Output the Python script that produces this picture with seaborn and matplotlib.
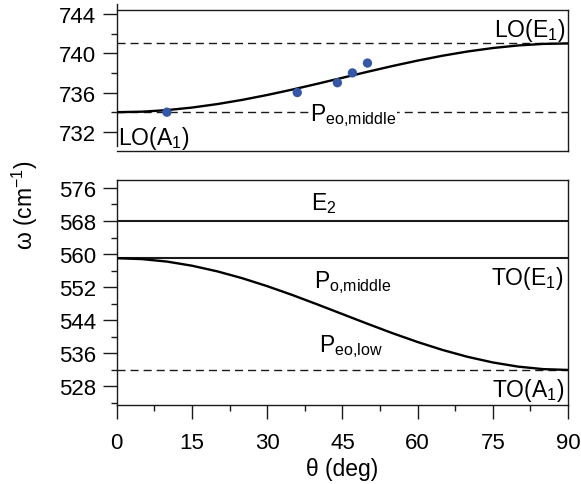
import matplotlib
matplotlib.use("Agg")
import matplotlib.pyplot as plt
from matplotlib.ticker import MultipleLocator, FixedLocator
import seaborn as sns

# angle grid (deg) and mode frequencies (cm-1)
theta = [0, 5, 10, 15, 20, 25, 30, 35, 40, 45, 50, 55, 60, 65, 70, 75, 80, 85, 90]
p_eo_middle = [734.0, 734.05, 734.21, 734.47, 734.82, 735.25, 735.75, 736.3, 736.89, 737.5,
               738.11, 738.7, 739.25, 739.75, 740.18, 740.53, 740.79, 740.95, 741.0]
p_eo_low = [559.0, 558.79, 558.19, 557.19, 555.84, 554.18, 552.25, 550.12, 547.84, 545.5,
            543.16, 540.88, 538.75, 536.82, 535.16, 533.81, 532.81, 532.2, 532.0]

# measured points
meas_theta = [10, 36, 44, 47, 50]
meas_omega = [734, 736, 737, 738, 739]

# reference modes
lo_modes = [741, 734]      # LO(E1), LO(A1) - dashed
high_solid = [568, 559]    # E2, TO(E1) - solid
to_a1 = [532]              # TO(A1) - dashed

x_ticks = [0, 15, 30, 45, 60, 75, 90]
top_ticks = [732, 736, 740, 744]
bot_ticks = [528, 536, 544, 552, 560, 568, 576]

sns.set_style("ticks")
plt.rcParams["font.family"] = ["Liberation Sans", "DejaVu Sans"]
plt.rcParams["mathtext.fontset"] = "custom"
plt.rcParams["mathtext.rm"] = "Liberation Sans"
plt.rcParams["mathtext.it"] = "Liberation Sans"
plt.rcParams["mathtext.default"] = "regular"
plt.rcParams["text.color"] = "black"
plt.rcParams["axes.labelcolor"] = "black"
plt.rcParams["xtick.color"] = "black"
plt.rcParams["ytick.color"] = "black"

FS = 16
LFS = 16.5
ink = "#1a1a1a"
blue = "#3557a8"
dash = (0, (5.8, 3.6))

fig = plt.figure(figsize=(5.81, 4.85), dpi=100)
ax1 = fig.add_axes([0.2009, 0.6856, 0.7768, 0.2917])
ax2 = fig.add_axes([0.2009, 0.1635, 0.7768, 0.4633])

for ax in (ax1, ax2):
    for s in ax.spines.values():
        s.set_linewidth(1.0)
        s.set_color(ink)
    ax.set_xlim(0, 90)
    ax.tick_params(axis="both", which="major", direction="out", length=10, width=1.0,
                   color=ink, labelsize=FS, pad=5)
    ax.tick_params(axis="both", which="minor", direction="out", length=4.5, width=1.0, color=ink)

# top panel
for v in lo_modes:
    ax1.axhline(v, color=ink, lw=1.0, ls=dash, zorder=1)
sns.lineplot(x=theta, y=p_eo_middle, ax=ax1, color="black", lw=1.7, zorder=3)
sns.scatterplot(x=meas_theta, y=meas_omega, ax=ax1, color=blue, s=45, edgecolor="none", zorder=4)
ax1.set_ylim(730.0, 744.4)
ax1.yaxis.set_major_locator(FixedLocator(top_ticks))
ax1.yaxis.set_minor_locator(FixedLocator([734, 738, 742]))
ax1.spines["left"].set_bounds(730.6, 745.0)
ax1.tick_params(axis="x", which="both", bottom=False, labelbottom=False)

ax1.text(89.5, 741.75, r"LO(E$_1$)", ha="right", va="baseline", fontsize=LFS)
ax1.text(0.3, 730.8, r"LO(A$_1$)", ha="left", va="baseline", fontsize=LFS)
ax1.text(38.5, 733.15, r"P$_{eo{,}middle}$", ha="left", va="baseline", fontsize=LFS,
         bbox=dict(facecolor="white", edgecolor="none", pad=0.5), zorder=5)

# bottom panel
for v in high_solid:
    ax2.axhline(v, color=ink, lw=1.5, zorder=2)
for v in to_a1:
    ax2.axhline(v, color=ink, lw=1.0, ls=dash, zorder=1)
sns.lineplot(x=theta, y=p_eo_low, ax=ax2, color="black", lw=1.7, zorder=3)
ax2.set_ylim(523.6, 577.9)
ax2.yaxis.set_major_locator(FixedLocator(bot_ticks))
ax2.yaxis.set_minor_locator(FixedLocator([524, 532, 540, 548, 556, 564, 572]))
ax2.set_xticks(x_ticks)
ax2.xaxis.set_minor_locator(MultipleLocator(7.5))
ax2.tick_params(axis="x", which="major", pad=9.5)

ax2.text(38.8, 570.9, r"E$_2$", ha="left", va="baseline", fontsize=LFS)
ax2.text(39.3, 552.0, r"P$_{o{,}middle}$", ha="left", va="baseline", fontsize=LFS)
ax2.text(89.2, 552.75, r"TO(E$_1$)", ha="right", va="baseline", fontsize=LFS)
ax2.text(40.4, 536.6, r"P$_{eo{,}low}$", ha="left", va="baseline", fontsize=LFS)
ax2.text(89.3, 525.8, r"TO(A$_1$)", ha="right", va="baseline", fontsize=LFS)

ax2.set_xlabel("θ (deg)", fontsize=LFS, labelpad=3)
fig.text(0.043, 0.577, "ω (cm$^{-1}$)", rotation=90, ha="center", va="center", fontsize=LFS)

fig.savefig("out.png", dpi=100)
